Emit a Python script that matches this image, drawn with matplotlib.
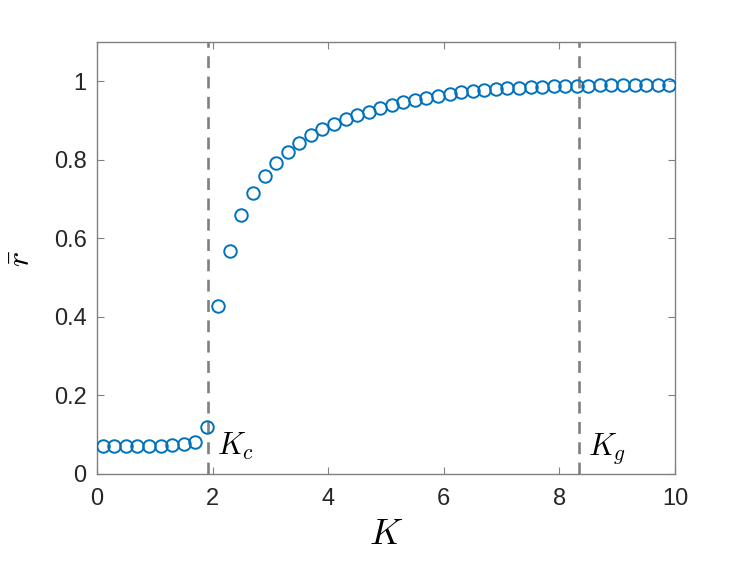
import numpy as np
import matplotlib
matplotlib.use("Agg")
import matplotlib.pyplot as plt

plt.rcParams['font.family'] = ['Liberation Sans', 'DejaVu Sans']
plt.rcParams['mathtext.fontset'] = 'cm'

K = [0.1, 0.3, 0.5, 0.7, 0.9, 1.1, 1.3, 1.5, 1.7, 1.9,
     2.1, 2.3, 2.5, 2.7, 2.9, 3.1, 3.3, 3.5, 3.7, 3.9,
     4.1, 4.3, 4.5, 4.7, 4.9, 5.1, 5.3, 5.5, 5.7, 5.9,
     6.1, 6.3, 6.5, 6.7, 6.9, 7.1, 7.3, 7.5, 7.7, 7.9,
     8.1, 8.3, 8.5, 8.7, 8.9, 9.1, 9.3, 9.5, 9.7, 9.9]
r_bar = [0.072, 0.072, 0.071, 0.072, 0.072, 0.072, 0.073, 0.076, 0.082, 0.120,
         0.429, 0.569, 0.659, 0.715, 0.758, 0.793, 0.821, 0.844, 0.862, 0.878,
         0.892, 0.904, 0.915, 0.923, 0.932, 0.940, 0.946, 0.952, 0.957, 0.963,
         0.968, 0.972, 0.975, 0.978, 0.980, 0.982, 0.984, 0.985, 0.986, 0.987,
         0.988, 0.989, 0.989, 0.990, 0.990, 0.990, 0.991, 0.991, 0.991, 0.991]
K_c = 1.92
K_g = 8.34
xticks = [0, 2, 4, 6, 8, 10]
yticks = [0, 0.2, 0.4, 0.6, 0.8, 1.0]
ytick_labels = ['0', '0.2', '0.4', '0.6', '0.8', '1']

fig = plt.figure(figsize=(7.47, 5.61), dpi=100)
ax = fig.add_axes([97/747, 1-474/561, (675-97)/747, (474-42)/561])

gray = '#808080'
ax.axvline(K_c, color=gray, lw=1.9, ls=(0, (4.5, 3.2)), zorder=1)
ax.axvline(K_g, color=gray, lw=1.9, ls=(0, (4.5, 3.2)), zorder=1)
ax.plot(K, r_bar, 'o', mfc='none', mec='#0072BD', mew=1.4, ms=9, zorder=3)

ax.set_xlim(0, 10)
ax.set_ylim(0, 1.1)
ax.set_xticks(xticks)
ax.set_xticklabels([str(t) for t in xticks])
ax.set_yticks(yticks)
ax.set_yticklabels(ytick_labels)
ax.tick_params(direction='in', top=True, right=True, length=5, width=0.8,
               colors=gray, labelcolor='#262626', labelsize=17)
ax.tick_params(axis='x', pad=10)
ax.tick_params(axis='y', pad=7.5)
for s in ax.spines.values():
    s.set_color(gray)
    s.set_linewidth(1.0)

ax.text(K_c + 0.15, 0.05, r'$K_c$', fontsize=22, color='black')
ax.text(K_g + 0.15, 0.05, r'$K_g$', fontsize=22, color='black')

ax.set_xlabel(r'$K$', fontsize=26, labelpad=5)
ax.set_ylabel(r'$\bar{r}$', fontsize=23, labelpad=12)

fig.savefig('out.png', dpi=100)
